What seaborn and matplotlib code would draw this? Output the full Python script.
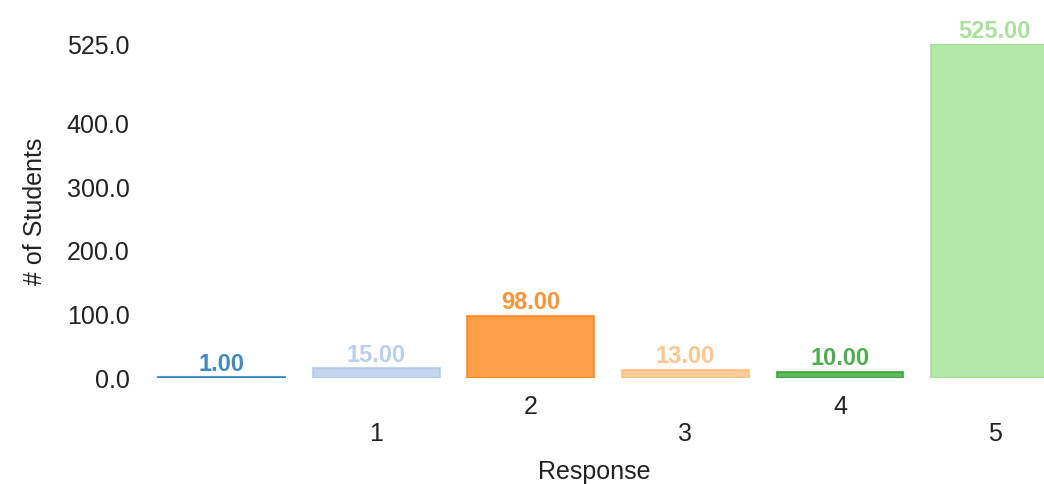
import matplotlib
matplotlib.use("Agg")
import matplotlib.pyplot as plt
import seaborn as sns
import pandas as pd

responses = ["0", "1", "2", "3", "4", "5"]
tick_labels = ["", "\n1", "2", "\n3", "4", "\n5"]
students = [1, 15, 98, 13, 10, 525]
y_ticks = [0, 100, 200, 300, 400, 525]
colors = ["#1f77b4", "#aec7e8", "#ff7f0e", "#ffbb78", "#2ca02c", "#98df8a"]

sns.set_style("white")
plt.rcParams["font.family"] = ["Liberation Sans", "DejaVu Sans"]

df = pd.DataFrame({"Response": responses, "Students": students})

W, H = 1044, 484
fig = plt.figure(figsize=(W / 100, H / 100), dpi=100)
ax = fig.add_axes([145 / W, 1 - 378 / H, (W - 145) / W, (378 - 44) / H])

sns.barplot(data=df, x="Response", y="Students", hue="Response",
            palette=colors, saturation=1, width=0.82, alpha=0.75,
            legend=False, linewidth=1.5, ax=ax)

for cont, c in zip(ax.containers, colors):
    for bar in cont:
        bar.set_edgecolor(c)
    ax.bar_label(cont, fmt="%.2f", padding=1, color=c, alpha=0.85,
                 fontsize=17, fontweight="bold", clip_on=False)

ax.set_xlim(-0.495, 5.32)
ax.set_ylim(0, 525)
ax.set_yticks(y_ticks)
ax.set_yticklabels([f"{v:.1f}" for v in y_ticks])
ax.set_xticks(range(len(responses)))
ax.set_xticklabels(tick_labels)
ax.tick_params(axis="x", length=0, pad=12, labelsize=18, colors="#222222")
ax.tick_params(axis="y", length=0, pad=11, labelsize=18, colors="#222222")
ax.set_xlabel("Response", fontsize=18, labelpad=10, color="#222222")
ax.set_ylabel("# of Students", fontsize=18, labelpad=14, color="#222222")
sns.despine(ax=ax, left=True, bottom=True)

fig.savefig("out.png", dpi=100)
